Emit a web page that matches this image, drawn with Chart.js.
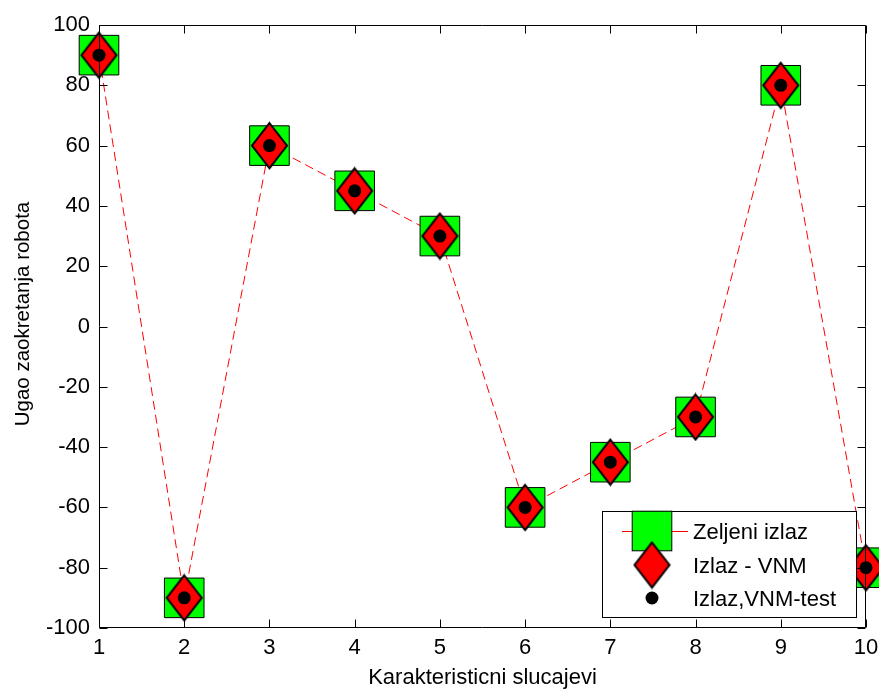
<!DOCTYPE html>
<html>
<head>
<meta charset="utf-8">
<title>Ugao zaokretanja robota</title>
<script src="https://cdn.jsdelivr.net/npm/chart.js@4/dist/chart.umd.min.js"></script>
<style>
  html, body { margin: 0; padding: 0; background: #fff; }
  canvas { display: block; }
</style>
</head>
<body>
<canvas id="chart" width="879" height="689"></canvas>
<script>
// Test cases and robot rotation angles (degrees)
const categories = ['1', '2', '3', '4', '5', '6', '7', '8', '9', '10'];
const zeljeniIzlaz = [90, -90, 60, 45, 30, -60, -45, -30, 80, -80];
const izlazVNM = [90, -90, 60, 45, 30, -60, -45, -30, 80, -80];
const izlazVNMTest = [90, -90, 60, 45, 30, -60, -45, -30, 80, -80];
const yTickValues = [-100, -80, -60, -40, -20, 0, 20, 40, 60, 80, 100];
const seriesLabels = ['Zeljeni izlaz', 'Izlaz - VNM', 'Izlaz,VNM-test'];
const xTitle = 'Karakteristicni slucajevi';
const yTitle = 'Ugao zaokretanja robota';

const FONT = 'Arial, "Liberation Sans", Helvetica, sans-serif';
Chart.defaults.font.family = FONT;
Chart.defaults.font.size = 22;
Chart.defaults.color = '#000';

// Tall red diamond marker with black outline
function makeDiamond(w, h) {
  const c = document.createElement('canvas');
  c.width = w + 4; c.height = h + 4;
  const g = c.getContext('2d');
  const cx = c.width / 2, cy = c.height / 2;
  g.beginPath();
  g.moveTo(cx, cy - h / 2);
  g.lineTo(cx + w / 2, cy);
  g.lineTo(cx, cy + h / 2);
  g.lineTo(cx - w / 2, cy);
  g.closePath();
  g.fillStyle = '#ff0000';
  g.fill();
  g.lineWidth = 2;
  g.strokeStyle = '#000';
  g.stroke();
  return c;
}
const diamond = makeDiamond(35, 45);

// Boxed axes with inward tick marks on all four sides
const framePlugin = {
  id: 'frame',
  afterDatasetsDraw(chart) {
    const { ctx, chartArea: a, scales } = chart;
    const L = Math.round(a.left) + 0.5, R = Math.round(a.right) - 0.5;
    const T = Math.round(a.top) + 0.5, B = Math.round(a.bottom) - 0.5;
    const len = 8;
    ctx.save();
    ctx.strokeStyle = '#000';
    ctx.lineWidth = 1;
    ctx.beginPath();
    ctx.rect(L, T, R - L, B - T);
    scales.x.ticks.forEach((t, i) => {
      const x = Math.round(scales.x.getPixelForTick(i)) + 0.5;
      ctx.moveTo(x, B); ctx.lineTo(x, B - len);
      ctx.moveTo(x, T); ctx.lineTo(x, T + len);
    });
    scales.y.ticks.forEach((t) => {
      const y = Math.round(scales.y.getPixelForValue(t.value)) + 0.5;
      ctx.moveTo(L, y); ctx.lineTo(L + len, y);
      ctx.moveTo(R, y); ctx.lineTo(R - len, y);
    });
    ctx.stroke();
    ctx.restore();
  }
};

// Vertical axis title and the boxed legend in the lower right
const annotatePlugin = {
  id: 'annotate',
  afterDraw(chart) {
    const { ctx } = chart;
    ctx.save();
    ctx.fillStyle = '#000';
    ctx.font = '20.5px ' + FONT;
    ctx.textAlign = 'center';
    ctx.textBaseline = 'middle';
    ctx.translate(23, 314);
    ctx.rotate(-Math.PI / 2);
    ctx.fillText(yTitle, 0, 0);
    ctx.restore();

    // legend box
    const box = { x: 602.5, y: 511.5, w: 254, h: 106 };
    ctx.save();
    ctx.fillStyle = '#fff';
    ctx.fillRect(box.x, box.y, box.w, box.h);
    ctx.strokeStyle = '#000';
    ctx.lineWidth = 1;
    ctx.strokeRect(box.x, box.y, box.w, box.h);

    const ds = chart.data.datasets;
    const symX = 652;
    const rows = [531, 565, 598];
    // entry 1: line sample with square marker
    ctx.strokeStyle = ds[0].borderColor;
    ctx.beginPath();
    ctx.moveTo(622, rows[0] + 0.5);
    ctx.lineTo(688, rows[0] + 0.5);
    ctx.stroke();
    ctx.fillStyle = ds[0].pointBackgroundColor;
    ctx.strokeStyle = '#000';
    ctx.lineWidth = 1;
    const s = ds[0].pointRadius * Math.SQRT1_2;
    ctx.fillRect(symX - s, rows[0] - s, 2 * s, 2 * s);
    ctx.strokeRect(symX - s, rows[0] - s, 2 * s, 2 * s);
    // entry 2: diamond
    ctx.drawImage(diamond, symX - diamond.width / 2, rows[1] - diamond.height / 2);
    // entry 3: dot
    ctx.fillStyle = '#000';
    ctx.beginPath();
    ctx.arc(symX, rows[2], ds[2].pointRadius, 0, Math.PI * 2);
    ctx.fill();

    ctx.fillStyle = '#000';
    ctx.font = '22px ' + FONT;
    ctx.textAlign = 'left';
    ctx.textBaseline = 'alphabetic';
    ds.forEach((d, i) => ctx.fillText(d.label, 693, rows[i] + 8));
    ctx.restore();
  }
};

new Chart(document.getElementById('chart'), {
  type: 'line',
  data: {
    labels: categories,
    datasets: [
      {
        label: seriesLabels[0],
        data: zeljeniIzlaz,
        order: 3,
        borderColor: '#ff0000',
        borderWidth: 1,
        borderDash: [9, 5],
        tension: 0,
        fill: false,
        pointStyle: 'rect',
        pointRadius: 28,
        pointBackgroundColor: '#00ff00',
        pointBorderColor: '#000',
        pointBorderWidth: 1,
        clip: false
      },
      {
        label: seriesLabels[1],
        data: izlazVNM,
        order: 2,
        showLine: false,
        pointStyle: diamond,
        pointRadius: 22,
        clip: false
      },
      {
        label: seriesLabels[2],
        data: izlazVNMTest,
        order: 1,
        showLine: false,
        pointStyle: 'circle',
        pointRadius: 6.5,
        pointBackgroundColor: '#000',
        pointBorderColor: '#000',
        pointBorderWidth: 0,
        clip: false
      }
    ]
  },
  options: {
    responsive: false,
    animation: false,
    devicePixelRatio: 1,
    events: [],
    layout: { autoPadding: false, padding: { top: 25, right: 13, left: 0, bottom: 0 } },
    plugins: {
      legend: { display: false },
      tooltip: { enabled: false }
    },
    scales: {
      x: {
        type: 'category',
        offset: false,
        grid: { display: false, drawTicks: false },
        border: { display: false },
        ticks: { autoSkip: false, maxRotation: 0, padding: 7, font: { size: 22 } },
        title: {
          display: true,
          text: xTitle,
          font: { size: 22, lineHeight: 1 },
          padding: { top: 1, bottom: 0 }
        },
        afterFit(scale) {
          scale.height = 61;
          scale.paddingLeft = 0;
          scale.paddingRight = 0;
        }
      },
      y: {
        min: yTickValues[0],
        max: yTickValues[yTickValues.length - 1],
        grid: { display: false, drawTicks: false },
        border: { display: false },
        afterBuildTicks(scale) { scale.ticks = yTickValues.map(v => ({ value: v })); },
        ticks: { padding: 9, font: { size: 22 } },
        afterFit(scale) {
          scale.width = 99;
          scale.paddingTop = 0;
          scale.paddingBottom = 0;
        }
      }
    }
  },
  plugins: [framePlugin, annotatePlugin]
});
</script>
</body>
</html>
